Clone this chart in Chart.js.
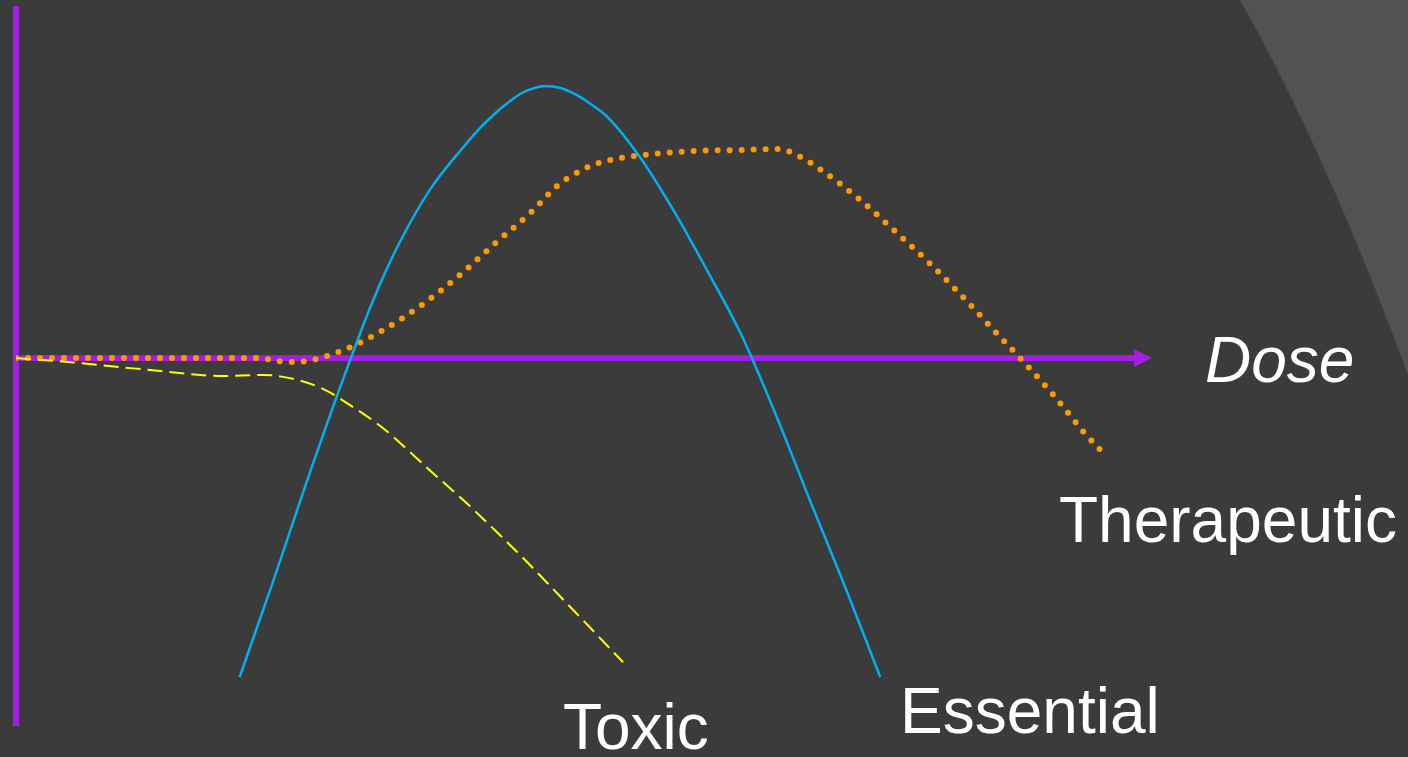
<!DOCTYPE html>
<html>
<head>
<meta charset="utf-8">
<script src="https://cdn.jsdelivr.net/npm/chart.js@4/dist/chart.umd.min.js"></script>
<style>
  html, body { margin: 0; padding: 0; background: #3b3b3b; overflow: hidden; }
  #wrap { position: relative; width: 1408px; height: 757px; }
  canvas { position: absolute; left: 0; top: 0; }
  .lbl { position: absolute; color: #ffffff; font-family: "Liberation Sans", Arial, sans-serif;
         font-size: 64px; line-height: 64px; white-space: nowrap; }
</style>
</head>
<body>
<div id="wrap">
  <canvas id="doseChart" width="1408" height="757"></canvas>
  <div class="lbl" style="left:1205px; top:328px; font-style:italic;">Dose</div>
  <div class="lbl" style="left:1059px; top:488px;">Therapeutic</div>
  <div class="lbl" style="left:900px; top:679px;">Essential</div>
  <div class="lbl" style="left:563px; top:695px;">Toxic</div>
</div>
<script>
// dose (0-100) vs response (relative units)
const essential_dose = [20.0, 23.0, 25.9, 28.9, 31.8, 34.1, 37.0, 40.0, 41.5, 43.0, 44.2, 45.1, 46.0, 47.3, 48.7, 49.8, 51.3, 52.9, 55.8, 58.8, 61.8, 64.8, 67.9, 71.0, 74.2, 77.3];
const essential_resp = [-90.6, -63.4, -36.1, -9.1, 15.3, 31.5, 47.7, 59.9, 65.3, 69.9, 73.0, 75.0, 76.3, 77.3, 76.7, 75.3, 72.4, 68.5, 57.1, 42.0, 25.0, 7.1, -15.6, -40.3, -65.3, -90.6];

const therapeutic_dose = [0, 7.5, 16.5, 21.5, 23.6, 25.2, 26.8, 27.8, 29.9, 32.7, 36.3, 39.7, 42.9, 46.2, 48.4, 51.2, 53.2, 55.3, 60.6, 64.9, 68.2, 70.2, 71.9, 75.4, 78.6, 81.8, 84.8, 87.7, 89.9, 92.8, 95.5, 97.0];
const therapeutic_resp = [0, 0, 0, 0, -0.9, -1.1, -0.3, 0.6, 3.1, 7.7, 15.1, 23.6, 32.7, 41.8, 48.9, 54.3, 56.3, 57.4, 58.8, 59.1, 59.4, 57.1, 53.7, 45.2, 36.1, 26.7, 17.0, 7.1, -0.3, -10.5, -21.0, -26.1];

const toxic_dose = [0, 4.6, 7.5, 12.0, 16.5, 18.2, 22.1, 24.5, 27.5, 29.6, 32.7, 37.2, 40.2, 43.0, 45.8, 48.4, 51.3, 54.3];
const toxic_resp = [0, -1.1, -2.0, -3.4, -4.8, -5.1, -4.8, -5.7, -8.8, -12.8, -19.6, -32.4, -40.9, -49.4, -58.2, -66.8, -76.4, -86.4];

const dose_range = [0, 100];
const resp_range = [-104.5, 100];

function pts(xs, ys) {
  return xs.map((x, i) => ({ x: x, y: ys[i] }));
}

const AXIS = "#a21ee0";

// slide background band + purple axes with arrow
const decor = {
  id: "decor",
  beforeDraw(chart) {
    const c = chart.ctx;
    c.save();
    c.fillStyle = "#525252";
    c.beginPath();
    c.moveTo(1240, 0);
    c.quadraticCurveTo(1325, 150, 1408, 375);
    c.lineTo(1408, 0);
    c.closePath();
    c.fill();
    c.restore();
  },
  beforeDatasetsDraw(chart) {
    const c = chart.ctx, a = chart.chartArea;
    const x0 = chart.scales.x.getPixelForValue(0);
    const y0 = chart.scales.y.getPixelForValue(0);
    c.save();
    c.fillStyle = AXIS;
    c.fillRect(x0 - 3, a.top, 6, a.bottom - a.top);
    c.fillRect(x0 - 3, y0 - 3, a.right - x0 + 3, 6);
    c.beginPath();
    c.moveTo(a.right, y0 - 9);
    c.lineTo(a.right + 18, y0);
    c.lineTo(a.right, y0 + 9);
    c.closePath();
    c.fill();
    c.restore();
  }
};

var ctx = document.getElementById("doseChart").getContext("2d");
var doseChart = new Chart(ctx, {
  type: "line",
  data: {
    datasets: [
      {
        label: "Essential",
        data: pts(essential_dose, essential_resp),
        borderColor: "#00b0f0",
        borderWidth: 2.5,
        cubicInterpolationMode: "monotone",
        pointRadius: 0
      },
      {
        label: "Toxic",
        data: pts(toxic_dose, toxic_resp),
        borderColor: "#ffff00",
        borderWidth: 2,
        borderDash: [15, 7],
        cubicInterpolationMode: "monotone",
        pointRadius: 0
      },
      {
        label: "Therapeutic",
        data: pts(therapeutic_dose, therapeutic_resp),
        borderColor: "#ff9900",
        borderWidth: 6,
        borderDash: [0, 12],
        borderCapStyle: "round",
        cubicInterpolationMode: "monotone",
        pointRadius: 0
      }
    ]
  },
  options: {
    responsive: false,
    animation: false,
    devicePixelRatio: 1,
    layout: { padding: { left: 16, right: 274, top: 6, bottom: 31 } },
    plugins: { legend: { display: false }, tooltip: { enabled: false } },
    scales: {
      x: { type: "linear", min: dose_range[0], max: dose_range[1], display: false },
      y: { type: "linear", min: resp_range[0], max: resp_range[1], display: false }
    }
  },
  plugins: [decor]
});
</script>
</body>
</html>
